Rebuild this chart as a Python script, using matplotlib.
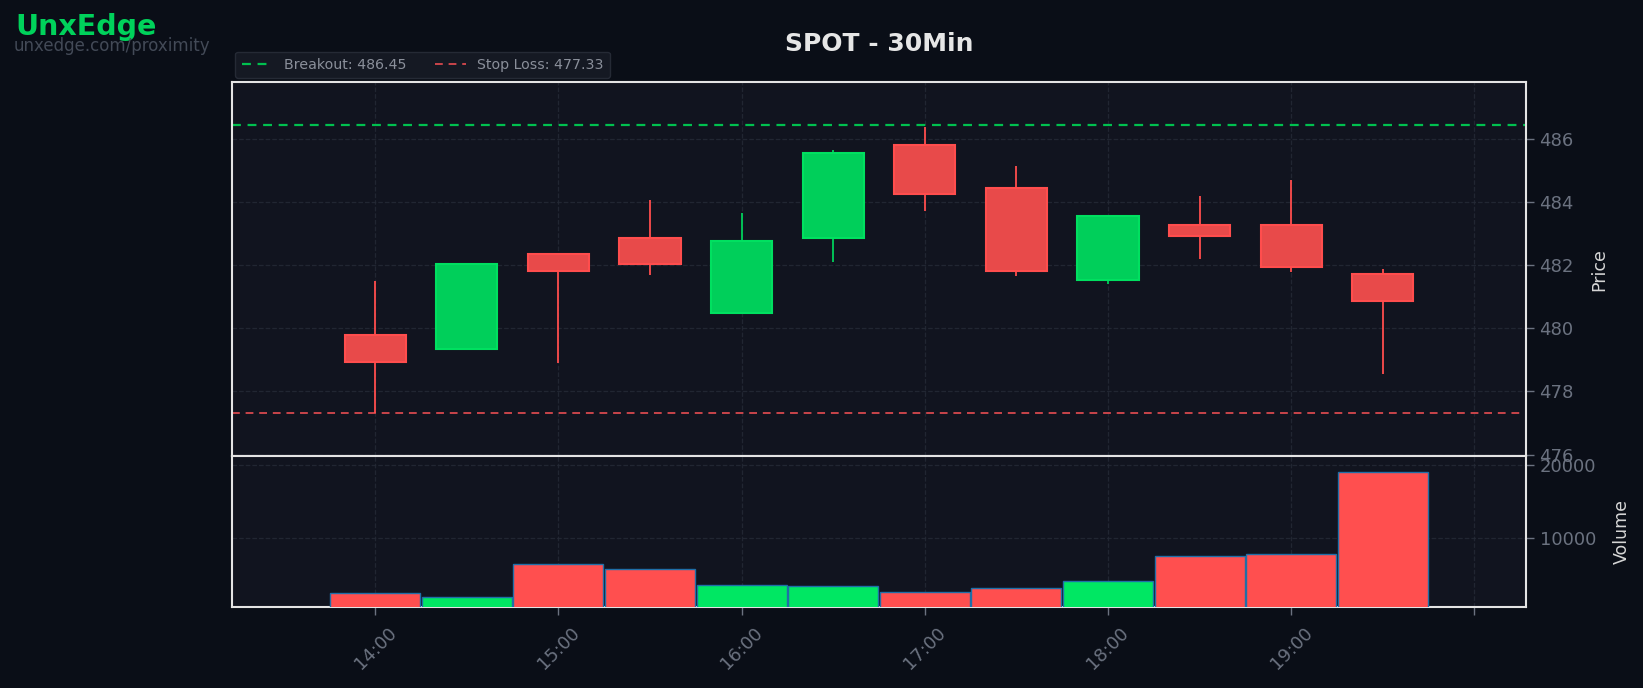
import matplotlib
matplotlib.use("Agg")
import matplotlib.pyplot as plt
import matplotlib.dates as mdates
from matplotlib.ticker import MultipleLocator, FixedLocator
import pandas as pd

# 30 min candles, 14:00 -> 19:30
times = pd.date_range("2024-01-01 14:00", periods=12, freq="30min")
opens = [479.78, 479.35, 482.34, 482.86, 480.49, 482.87, 485.79, 484.43, 481.54, 483.26, 483.26, 481.72]
highs = [481.50, 482.05, 482.36, 484.06, 483.65, 485.64, 486.38, 485.13, 483.56, 484.19, 484.69, 481.88]
lows = [477.33, 479.33, 478.91, 481.70, 480.47, 482.10, 483.71, 481.65, 481.40, 482.19, 481.78, 478.55]
closes = [478.94, 482.03, 481.82, 482.04, 482.75, 485.54, 484.26, 481.82, 483.54, 482.93, 481.95, 480.87]
volumes = [2450, 1910, 6410, 5730, 3550, 3410, 2590, 3140, 4090, 7500, 7780, 19040]

breakout = 486.45
stop_loss = 477.33

BG = "#0a0e17"
PANEL = "#11141f"
GREEN = "#00cf5a"
RED = "#e84a4a"
RED_EDGE = "#ff4d4d"
GRID = "#262b37"
TICK = "#6b7280"

fig = plt.figure(figsize=(16.43, 6.88), dpi=100, facecolor=BG)
ax = fig.add_axes([0.141, 0.3365, 0.788, 0.5445], facecolor=PANEL)
axv = fig.add_axes([0.141, 0.118, 0.788, 0.2185], facecolor=PANEL, sharex=ax)

x = mdates.date2num(times)
body_w = 20 / 1440
vol_w = 29.5 / 1440

for i in range(len(x)):
    up = closes[i] >= opens[i]
    wick_c = GREEN if up else RED_EDGE
    fill_c = GREEN if up else RED
    edge_c = "#00e060" if up else RED_EDGE
    ax.vlines(x[i], lows[i], highs[i], color=wick_c, linewidth=1.3, zorder=2)
    lo = min(opens[i], closes[i])
    ax.bar(x[i], abs(closes[i] - opens[i]), bottom=lo, width=body_w,
           color=fill_c, edgecolor=edge_c, linewidth=1.5, zorder=3)

ax.axhline(breakout, color="#00c04f", linestyle=(0, (4, 3)), linewidth=1.6,
           label=f"Breakout: {breakout:.2f}", zorder=1)
ax.axhline(stop_loss, color="#c9454b", linestyle=(0, (4, 3)), linewidth=1.4,
           label=f"Stop Loss: {stop_loss:.2f}", zorder=1)

vol_colors = ["#00e763" if c >= o else "#ff4f4f" for o, c in zip(opens, closes)]
axv.bar(x, volumes, width=vol_w, color=vol_colors, edgecolor="#1f6fa8", linewidth=1.0, zorder=3)

ax.set_ylim(475.94, 487.80)
ax.yaxis.set_major_locator(MultipleLocator(2))
axv.set_ylim(630, 21150)
axv.yaxis.set_major_locator(FixedLocator([10000, 20000]))

xmin = x[0] - 47 / 1440
xmax = x[-1] + 47 / 1440
ax.set_xlim(xmin, xmax)

hours = pd.date_range("2024-01-01 14:00", periods=7, freq="60min")
axv.set_xticks(mdates.date2num(hours))
axv.set_xticklabels([h.strftime("%H:%M") for h in hours[:-1]] + [""], rotation=45)

for a in (ax, axv):
    a.yaxis.tick_right()
    a.yaxis.set_label_position("right")
    a.grid(True, color=GRID, linestyle="--", linewidth=0.9, alpha=0.8)
    a.set_axisbelow(True)
    a.tick_params(colors=TICK, labelsize=13, length=6, width=1)
    for s in a.spines.values():
        s.set_color("#e4e4e4")
        s.set_linewidth(1.5)

ax.tick_params(axis="x", labelbottom=False, length=0)
axv.tick_params(axis="x", pad=6)

ax.set_ylabel("Price", color="#d6d6d6", fontsize=12.5, labelpad=12)
axv.set_ylabel("Volume", color="#d6d6d6", fontsize=12.5, labelpad=12)

ax.set_title("SPOT - 30Min", color="#e6e6e6", fontsize=18, fontweight="bold", pad=22)

leg = ax.legend(loc="lower left", bbox_to_anchor=(0, 1.0), ncol=2, fontsize=10.2,
                frameon=True, facecolor="#151923", edgecolor="#252a35",
                labelcolor="#8a8f9a", borderaxespad=0.25, handlelength=2.2,
                columnspacing=2.0, borderpad=0.45)
leg.get_frame().set_alpha(1)

fig.text(0.0095, 0.961, "UnxEdge", color="#00d25b", fontsize=20.5, fontweight="bold",
         va="center", ha="left")
fig.text(0.0085, 0.933, "unxedge.com/proximity", color="#434a57", fontsize=12,
         va="center", ha="left")

fig.savefig("out.png", dpi=100, facecolor=BG)
